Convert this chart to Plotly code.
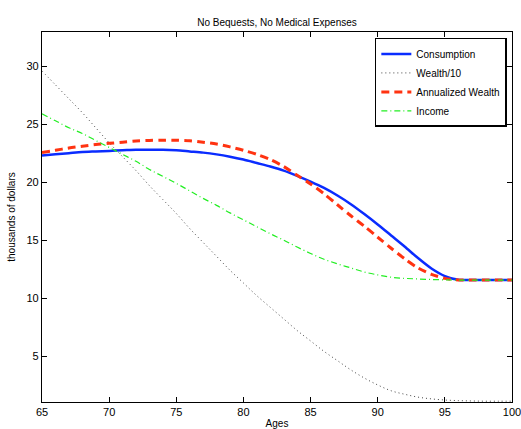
import plotly.graph_objects as go

ages = list(range(65, 101))

consumption = [22.3, 22.4, 22.5, 22.6, 22.65, 22.7, 22.75, 22.8, 22.8, 22.8,
               22.75, 22.65, 22.55, 22.4, 22.2, 21.95, 21.65, 21.35, 21.0, 20.55,
               20.05, 19.5, 18.85, 18.1, 17.25, 16.35, 15.4, 14.45, 13.45, 12.55,
               11.9, 11.58, 11.55, 11.55, 11.55, 11.55]

wealth10 = [29.6, 28.4, 27.2, 26.0, 24.7, 23.4, 22.2, 21.0, 19.7, 18.5,
            17.3, 16.0, 14.8, 13.6, 12.4, 11.3, 10.2, 9.2, 8.2, 7.2,
            6.3, 5.4, 4.6, 3.8, 3.1, 2.5, 2.0, 1.7, 1.45, 1.3,
            1.2, 1.15, 1.12, 1.1, 1.1, 1.1]

annualized = [22.55, 22.75, 22.95, 23.1, 23.25, 23.35, 23.45, 23.55, 23.6, 23.62,
              23.62, 23.58, 23.45, 23.3, 23.05, 22.75, 22.4, 21.95, 21.35, 20.6,
              19.85, 19.0, 18.05, 17.1, 16.2, 15.25, 14.3, 13.4, 12.6, 12.05,
              11.7, 11.56, 11.55, 11.55, 11.55, 11.55]

income = [25.9, 25.3, 24.7, 24.2, 23.6, 23.0, 22.4, 21.8, 21.1, 20.5,
          19.9, 19.25, 18.6, 18.0, 17.35, 16.75, 16.15, 15.55, 15.0, 14.4,
          13.85, 13.35, 12.95, 12.6, 12.25, 12.0, 11.8, 11.7, 11.65, 11.6,
          11.57, 11.55, 11.55, 11.55, 11.55, 11.55]

x_ticks = [65, 70, 75, 80, 85, 90, 95, 100]
y_ticks = [5, 10, 15, 20, 25, 30]

fig = go.Figure()
fig.add_trace(go.Scatter(x=ages, y=consumption, mode="lines", name="Consumption",
                         line=dict(color="#0a2cff", width=2.5, shape="spline", smoothing=0.8)))
fig.add_trace(go.Scatter(x=ages, y=wealth10, mode="lines", name="Wealth/10",
                         line=dict(color="#444444", width=1, dash="1px,3px", shape="spline")))
fig.add_trace(go.Scatter(x=ages, y=annualized, mode="lines", name="Annualized Wealth",
                         line=dict(color="#ff3311", width=3, dash="8px,5px", shape="spline", smoothing=0.8)))
fig.add_trace(go.Scatter(x=ages, y=income, mode="lines", name="Income",
                         line=dict(color="#22ee22", width=1.2, dash="6px,3px,1px,3px", shape="spline")))

font = "Liberation Sans, Arial, Helvetica, sans-serif"
fig.update_layout(
    width=521, height=429,
    margin=dict(l=42, r=9, t=32, b=27, autoexpand=False),
    paper_bgcolor="white", plot_bgcolor="white",
    font=dict(family=font, size=11, color="black"),
    title=dict(text="No Bequests, No Medical Expenses", x=0.5, xref="paper", xanchor="center",
               y=0.948, yref="container", yanchor="middle", font=dict(size=10), automargin=False),
    showlegend=True,
    legend=dict(x=0.989, y=0.984, xanchor="right", yanchor="top",
                bordercolor="black", borderwidth=1.5, bgcolor="white",
                font=dict(size=10), tracegroupgap=0, itemwidth=30),
    xaxis=dict(range=[65, 100], tickvals=x_ticks, ticks="inside", ticklen=5,
               tickcolor="black", showline=True, linecolor="black", linewidth=1.2,
               mirror="allticks", showgrid=False, zeroline=False, automargin=False,
               ticklabeloverflow="allow",
               title=dict(text="Ages", font=dict(size=10), standoff=2)),
    yaxis=dict(range=[1.03, 32.96], tickvals=y_ticks, ticks="inside", ticklen=5,
               tickcolor="black", showline=True, linecolor="black", linewidth=1.2,
               mirror="allticks", showgrid=False, zeroline=False, automargin=False,
               ticklabeloverflow="allow",
               title=dict(text="thousands of dollars", font=dict(size=10), standoff=8)),
)

fig.write_html(
    "out.html",
    config={"displayModeBar": False},
    post_script="document.body.style.margin='0px';document.body.style.overflow='hidden';",
)
